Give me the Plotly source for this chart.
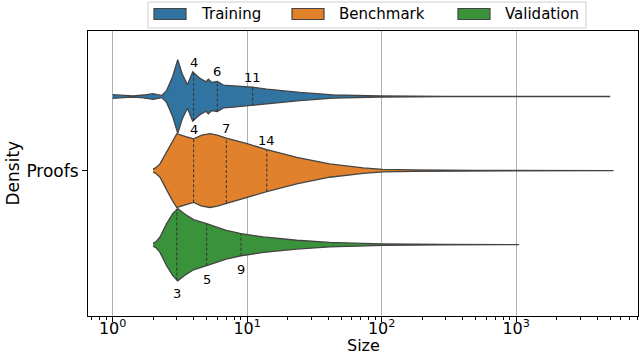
import numpy as np
import plotly.graph_objects as go

# violin outlines: size values and relative half-widths (0..1)
groups = ["Training", "Benchmark", "Validation"]
colors = ["#3274a1", "#e1812c", "#3a923a"]
centers = [0.267, 0.0, -0.267]
max_hw = 0.133

train_size = [1.0, 1.2, 1.42, 1.7, 2.0, 2.15, 2.32, 2.52, 2.8, 3.05, 3.3, 3.6, 3.94, 4.47, 4.95,
              5.15, 5.45, 6.0, 6.66, 7.9, 9.94, 11.0, 14.0, 24.7, 43.6, 69.0, 98.0, 300.0, 5000.0]
train_hw = [0.05, 0.03, 0.015, 0.04, 0.08, 0.05, 0.03, 0.16, 0.55, 1.0, 0.6, 0.32, 0.67, 0.49, 0.40,
            0.47, 0.38, 0.41, 0.31, 0.29, 0.27, 0.25, 0.20, 0.11, 0.046, 0.027, 0.014, 0.005, 0.0]

bench_size = [2.0, 2.1, 2.25, 2.52, 2.75, 3.0, 3.5, 4.0, 4.6, 5.3, 6.0, 7.0, 10.0, 14.0, 23.4,
              41.0, 73.0, 102.0, 172.0, 500.0, 5300.0]
bench_hw = [0.04, 0.08, 0.18, 0.52, 0.78, 1.0, 0.92, 0.86, 0.96, 1.0, 0.96, 0.88, 0.73, 0.57, 0.36,
            0.18, 0.073, 0.035, 0.019, 0.005, 0.0]

valid_size = [2.0, 2.1, 2.25, 2.52, 2.8, 3.05, 3.5, 4.0, 5.0, 7.0, 9.0, 13.2, 23.4, 41.0, 73.0,
              102.0, 300.0, 1050.0]
valid_hw = [0.04, 0.08, 0.21, 0.57, 0.84, 0.98, 0.81, 0.68, 0.57, 0.39, 0.30, 0.21, 0.12, 0.062,
            0.035, 0.019, 0.005, 0.0]

# quartiles (25/50/75) and the half-width of the violin there
quart_vals = [[4, 6, 11], [4, 7, 14], [3, 5, 9]]
quart_hw = [[0.66, 0.41, 0.25], [0.86, 0.88, 0.57], [0.97, 0.57, 0.30]]

sizes = [train_size, bench_size, valid_size]
widths = [train_hw, bench_hw, valid_hw]

W, H = 640, 354
L, R, T, B = 88, 2, 31, 38
pw, ph = W - L - R, H - T - B


def px(x):  # pixel -> paper x
    return (x - L) / pw


def py(y):  # pixel -> paper y
    return (H - B - y) / ph


fig = go.Figure()

for g, col, c, s, w in zip(groups, colors, centers, sizes, widths):
    s = np.array(s)
    w = np.array(w) * max_hw
    xs = np.concatenate([s, s[::-1]])
    ys = np.concatenate([c + w, (c - w)[::-1]])
    fig.add_trace(go.Scatter(x=xs, y=ys, fill="toself", fillcolor=col, mode="lines",
                             line=dict(color="#444444", width=1.3), name=g, showlegend=False))

annots = []
for i, c in enumerate(centers):
    for q, h in zip(quart_vals[i], quart_hw[i]):
        hh = h * max_hw
        fig.add_trace(go.Scatter(x=[q, q], y=[c - hh, c + hh], mode="lines", showlegend=False,
                                 line=dict(color="#333333", width=1, dash="3px,2px"),
                                 hoverinfo="skip"))
        if i < 2:
            annots.append(dict(x=np.log10(q), y=c + hh, text=str(q), showarrow=False,
                               yanchor="bottom", yshift=0, font=dict(size=13, color="black")))
        else:
            annots.append(dict(x=np.log10(q), y=c - hh, text=str(q), showarrow=False,
                               yanchor="top", yshift=-4, font=dict(size=13, color="black")))

annots.append(dict(text="Size", xref="paper", yref="paper", x=0.5, y=0, yshift=-29,
                   yanchor="middle", showarrow=False, font=dict(size=16, color="black")))
annots.append(dict(text="Density", xref="paper", yref="paper", x=0, xshift=-76, y=0.5,
                   textangle=-90, xanchor="center", showarrow=False, font=dict(size=17, color="black")))

# legend drawn by hand: box, patches and labels
shapes = [dict(type="rect", xref="paper", yref="paper", x0=px(148), x1=px(586), y0=py(2), y1=py(28),
               line=dict(color="#d0d0d0", width=1), fillcolor="white", layer="above")]
patch_x = [154, 292, 458]
for g, col, x0 in zip(groups, colors, patch_x):
    shapes.append(dict(type="rect", xref="paper", yref="paper", x0=px(x0), x1=px(x0 + 32),
                       y0=py(8.5), y1=py(19.5), fillcolor=col,
                       line=dict(color="#444444", width=1.2), layer="above"))
    annots.append(dict(text=g, xref="paper", yref="paper", x=px(x0 + 45), y=py(14),
                       xanchor="left", yanchor="middle", showarrow=False,
                       font=dict(size=15, color="black")))

major = [1, 10, 100, 1000]
minor = [m * 10 ** k for k in range(-1, 4) for m in range(2, 10)]

fig.update_layout(
    width=W, height=H,
    margin=dict(l=L, r=R, t=T, b=B),
    plot_bgcolor="white", paper_bgcolor="white",
    font=dict(family="DejaVu Sans", color="black"),
    annotations=annots, shapes=shapes, showlegend=False,
)
fig.update_xaxes(type="log", range=[-0.183, 3.906],
                 tickvals=major, ticktext=["10<sup>0</sup>", "10<sup>1</sup>", "10<sup>2</sup>", "10<sup>3</sup>"],
                 tickfont=dict(size=16), ticks="outside", ticklen=5, tickcolor="black",
                 ticklabelstandoff=-7,
                 showgrid=True, gridcolor="#b0b0b0", gridwidth=1,
                 showline=True, linecolor="black", linewidth=1, mirror=True, zeroline=False,
                 minor=dict(tickvals=minor, ticks="outside", ticklen=3, tickcolor="black", showgrid=False))
fig.update_yaxes(range=[-0.524, 0.503], tickvals=[0], ticktext=["Proofs"], tickfont=dict(size=17),
                 ticks="outside", ticklen=5, tickcolor="black", showgrid=False, zeroline=False,
                 showline=True, linecolor="black", linewidth=1, mirror=True)

fig.write_html("out.html", config={"displayModeBar": False},
               post_script="document.body.style.margin='0';")
